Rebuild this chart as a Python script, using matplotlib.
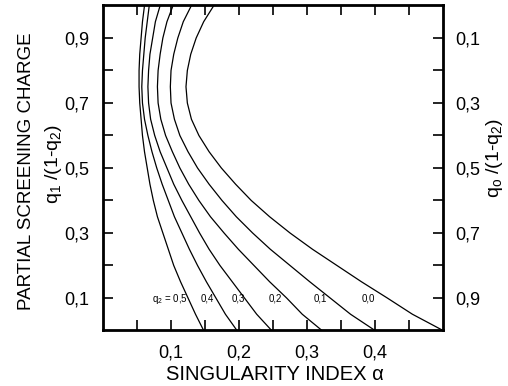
import matplotlib
matplotlib.use("Agg")
import matplotlib.pyplot as plt

# relative charge q1/(1-q2) (left axis), every 0.05
charge = [0.00, 0.05, 0.10, 0.15, 0.20, 0.25, 0.30, 0.35, 0.40, 0.45, 0.50,
          0.55, 0.60, 0.65, 0.70, 0.75, 0.80, 0.85, 0.90, 0.95, 1.00]

# singularity index alpha for each q2
alpha_q2_00 = [0.500, 0.455, 0.418, 0.380, 0.344, 0.308, 0.275, 0.245, 0.218, 0.195, 0.174,
               0.156, 0.141, 0.130, 0.124, 0.122, 0.124, 0.129, 0.137, 0.148, 0.163]
alpha_q2_01 = [0.400, 0.364, 0.334, 0.304, 0.275, 0.246, 0.220, 0.196, 0.175, 0.156, 0.139,
               0.125, 0.113, 0.105, 0.100, 0.099, 0.100, 0.104, 0.110, 0.118, 0.130]
alpha_q2_02 = [0.322, 0.293, 0.270, 0.245, 0.222, 0.199, 0.178, 0.158, 0.141, 0.126, 0.113,
               0.102, 0.092, 0.085, 0.081, 0.080, 0.081, 0.084, 0.088, 0.094, 0.103]
alpha_q2_03 = [0.248, 0.226, 0.208, 0.190, 0.172, 0.156, 0.142, 0.129, 0.116, 0.104, 0.094,
               0.084, 0.076, 0.070, 0.067, 0.066, 0.067, 0.069, 0.073, 0.077, 0.084]
alpha_q2_04 = [0.197, 0.180, 0.166, 0.152, 0.139, 0.127, 0.116, 0.105, 0.096, 0.087, 0.079,
               0.072, 0.066, 0.061, 0.058, 0.057, 0.058, 0.060, 0.062, 0.065, 0.068]
alpha_q2_05 = [0.148, 0.136, 0.125, 0.114, 0.104, 0.096, 0.088, 0.080, 0.074, 0.069, 0.065,
               0.061, 0.058, 0.056, 0.054, 0.053, 0.053, 0.054, 0.056, 0.058, 0.061]

curve_labels = ["q$_2$ = 0,5", "0,4", "0,3", "0,2", "0,1", "0,0"]
label_x = [0.098, 0.153, 0.199, 0.254, 0.319, 0.390]
label_y = 0.097

x_ticks = [0.1, 0.2, 0.3, 0.4]
x_ticklabels = ["0,1", "0,2", "0,3", "0,4"]
y_ticks = [0.1, 0.3, 0.5, 0.7, 0.9]
y_ticklabels = ["0,1", "0,3", "0,5", "0,7", "0,9"]
right_ticklabels = ["0,1", "0,3", "0,5", "0,7", "0,9"]

font = "Liberation Sans"
plt.rcParams["font.family"] = [font, "DejaVu Sans"]
plt.rcParams["mathtext.fontset"] = "custom"
plt.rcParams["mathtext.rm"] = font
plt.rcParams["mathtext.default"] = "rm"

fig = plt.figure(figsize=(5.08, 3.86), dpi=100)
ax = fig.add_axes([0.2028, 0.1438, 0.6693, 0.842])

for a in [alpha_q2_05, alpha_q2_04, alpha_q2_03, alpha_q2_02, alpha_q2_01, alpha_q2_00]:
    ax.plot(a, charge, color="black", lw=0.9)

for txt, lx in zip(curve_labels, label_x):
    ax.text(lx, label_y, txt, fontsize=7, ha="center", va="center")

ax.set_xlim(0, 0.5)
ax.set_ylim(0, 1)
ax.set_xticks(x_ticks)
ax.set_xticklabels(x_ticklabels, fontsize=13)
ax.set_xticks([0.05, 0.15, 0.25, 0.35, 0.45], minor=True)
ax.set_yticks(y_ticks)
ax.set_yticklabels(y_ticklabels, fontsize=13)
ax.set_yticks([0.2, 0.4, 0.6, 0.8], minor=True)
ax.tick_params(which="both", direction="in", length=7, width=1.2, top=True, pad=10)

ax2 = ax.twinx()
ax2.set_ylim(1, 0)
ax2.set_yticks(y_ticks)
ax2.set_yticklabels(right_ticklabels, fontsize=13)
ax2.set_yticks([0.2, 0.4, 0.6, 0.8], minor=True)
ax2.tick_params(which="both", direction="in", length=7, width=1.2, pad=9)

for sp in ax.spines.values():
    sp.set_linewidth(2)

fig.text(0.053, 0.556, "PARTIAL SCREENING CHARGE", rotation=90, ha="center", va="center", fontsize=13.5)
fig.text(0.106, 0.575, "q$_1$ /(1-q$_2$)", rotation=90, ha="center", va="center", fontsize=14)
fig.text(0.974, 0.59, "q$_o$ /(1-q$_2$)", rotation=90, ha="center", va="center", fontsize=14)
fig.text(0.541, 0.031, "SINGULARITY INDEX \u03b1", ha="center", va="center", fontsize=14.5)

fig.savefig("out.png", dpi=100)
